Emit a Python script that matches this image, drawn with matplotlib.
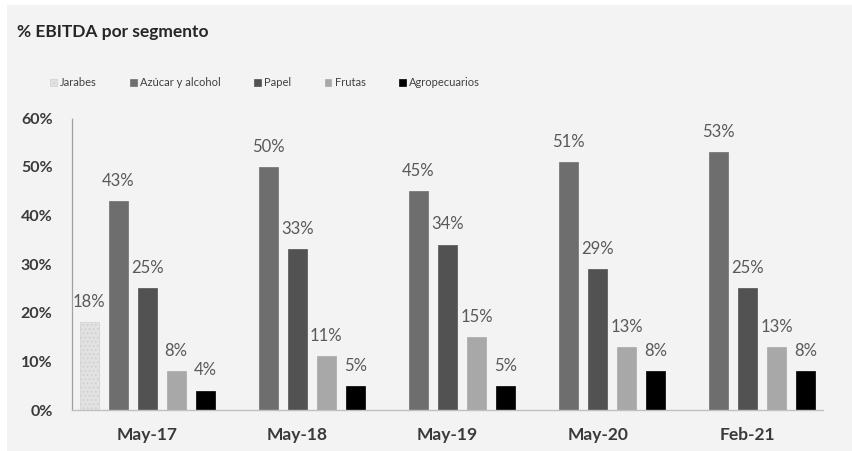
import matplotlib
matplotlib.use("Agg")
import matplotlib.pyplot as plt
import numpy as np
from matplotlib.patches import Rectangle

periods = ["May-17", "May-18", "May-19", "May-20", "Feb-21"]
segments = ["Jarabes", "Azúcar y alcohol", "Papel", "Frutas", "Agropecuarios"]
jarabes = [0.18, np.nan, np.nan, np.nan, np.nan]
azucar = [0.43, 0.50, 0.45, 0.51, 0.53]
papel = [0.25, 0.33, 0.34, 0.29, 0.25]
frutas = [0.08, 0.11, 0.15, 0.13, 0.13]
agro = [0.04, 0.05, 0.05, 0.08, 0.08]
yticks = [0, 0.1, 0.2, 0.3, 0.4, 0.5, 0.6]
ytick_labels = ["0%", "10%", "20%", "30%", "40%", "50%", "60%"]

series = [jarabes, azucar, papel, frutas, agro]
colors = ["#e2e2e2", "#6e6e6e", "#525252", "#a8a8a8", "#000000"]
hatches = ["....", None, None, None, None]

plt.rcParams['font.family'] = ['Lato', 'DejaVu Sans']
plt.rcParams['hatch.color'] = '#bdbdbd'
plt.rcParams['hatch.linewidth'] = 0.8

W, H = 852, 451
fig = plt.figure(figsize=(W/100, H/100), dpi=100, facecolor='white')
fig.patches.append(Rectangle((7/W, 0), 1 - 7/W, 1 - 5/H, transform=fig.transFigure,
                             facecolor='#f3f3f3', edgecolor='none', zorder=-10))

ax = fig.add_axes([72/W, (H-410)/H, 751/W, 292/H])
ax.set_facecolor('none')

x = np.arange(len(periods))
step = 0.193
width = 0.127
for i, (vals, c, h, name) in enumerate(zip(series, colors, hatches, segments)):
    pos = x + (i - 2) * step
    v = np.array(vals, dtype=float)
    ax.bar(pos, v, width, color=c, hatch=h, label=name,
           edgecolor=('#d0d0d0' if h else c), linewidth=0.5)
    for p, val in zip(pos, v):
        if np.isnan(val):
            continue
        ax.annotate(f"{val*100:.0f}%", (p, val), xytext=(0, 14.5), textcoords='offset points',
                    ha='center', va='center', fontsize=12, color='#595959')

ax.set_xlim(-0.5, len(periods) - 0.5)
ax.set_ylim(0, 0.6)
ax.set_yticks(yticks)
ax.set_yticklabels(ytick_labels, fontsize=11.5, fontweight='bold', color='#3a3a3a')
ax.set_xticks(x)
ax.set_xticklabels(periods, fontsize=12.5, fontweight='bold', color='#3a3a3a')
ax.tick_params(axis='y', length=0, pad=14)
ax.tick_params(axis='x', length=0, pad=12)
for s in ['top', 'right']:
    ax.spines[s].set_visible(False)
ax.spines['left'].set_color('#a0a0a0')
ax.spines['left'].set_linestyle((0, (1, 1)))
ax.spines['left'].set_linewidth(0.9)
ax.spines['bottom'].set_color('#c0c0c0')
ax.spines['bottom'].set_linewidth(1.0)

fig.text(17/W, 1 - 32/H, "% EBITDA por segmento", fontsize=12.5, fontweight='bold',
         color='#262626', ha='left', va='center')

handles, labels = ax.get_legend_handles_labels()
leg = fig.legend(handles, labels, loc='center left', bbox_to_anchor=(50/W, 1 - 83/H),
                 ncol=5, frameon=False, fontsize=8, handlelength=0.6, handleheight=0.6,
                 handletextpad=0.3, columnspacing=3.0, borderaxespad=0, borderpad=0)
for t in leg.get_texts():
    t.set_color('#404040')

fig.savefig("out.png", dpi=100, facecolor=fig.get_facecolor())
